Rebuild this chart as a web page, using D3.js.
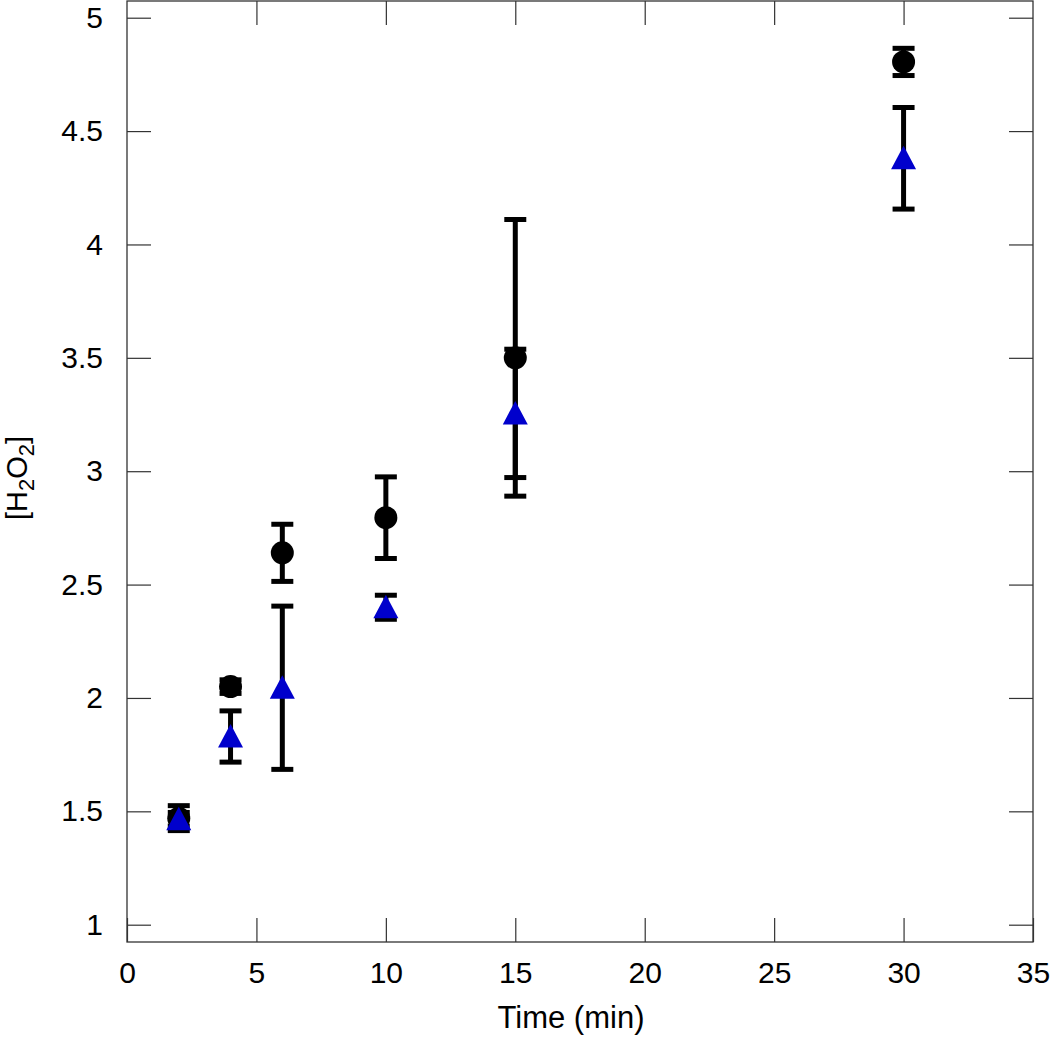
<!DOCTYPE html>
<html>
<head>
<meta charset="utf-8">
<script src="https://cdn.jsdelivr.net/npm/d3@7"></script>
<style>
  body { margin: 0; background: #fff; }
  svg { display: block; font-family: "Liberation Sans", Arial, sans-serif; }
</style>
</head>
<body>
<script>
// time points (min)
var times = [2, 4, 6, 10, 15, 30];

// black circles
var circleMean = [1.47, 2.05, 2.64, 2.795, 3.50, 4.805];
var circleErr  = [0.055, 0.03, 0.126, 0.18, 0.61, 0.06];

// blue triangles
var triMean = [1.465, 1.83, 2.045, 2.40, 3.255, 4.38];
var triErr  = [0.03, 0.113, 0.36, 0.053, 0.283, 0.224];

var xTicks = [0, 5, 10, 15, 20, 25, 30, 35];
var yTicks = [1, 1.5, 2, 2.5, 3, 3.5, 4, 4.5, 5];

const width = 1050;
const height = 1040;
const plotL = 127, plotR = 1033, plotT = 1, plotB = 942;

var svg = d3.select("body")
    .append("svg")
    .attr("width", width)
    .attr("height", height);

var x = d3.scaleLinear().domain([0, 35]).range([plotL, plotR]);
var y = d3.scaleLinear().domain([0.9237, 5.0737]).range([plotB, plotT]);

function styleAxis(g) {
    g.select(".domain").remove();
    g.selectAll(".tick line").attr("stroke", "#333").attr("stroke-width", 1.2);
    g.selectAll("text").attr("fill", "#000").style("font-size", "30px");
}

// frame
svg.append("rect")
    .attr("x", plotL).attr("y", plotT)
    .attr("width", plotR - plotL).attr("height", plotB - plotT)
    .attr("fill", "none").attr("stroke", "#333").attr("stroke-width", 1.3);

svg.append("g")
    .attr("transform", "translate(0," + plotB + ")")
    .call(d3.axisBottom(x).tickValues(xTicks).tickSize(-24).tickSizeOuter(0)
        .tickPadding(20).tickFormat(d3.format("~g")))
    .call(styleAxis);

svg.append("g")
    .attr("transform", "translate(0," + plotT + ")")
    .call(d3.axisTop(x).tickValues(xTicks.slice(1, -1)).tickSize(-24).tickSizeOuter(0)
        .tickFormat(""))
    .call(styleAxis);

svg.append("g")
    .attr("transform", "translate(" + plotL + ",0)")
    .call(d3.axisLeft(y).tickValues(yTicks).tickSize(-24).tickSizeOuter(0)
        .tickPadding(24).tickFormat(d3.format("~g")))
    .call(styleAxis);

svg.append("g")
    .attr("transform", "translate(" + plotR + ",0)")
    .call(d3.axisRight(y).tickValues(yTicks).tickSize(-24).tickSizeOuter(0)
        .tickFormat(""))
    .call(styleAxis);

// axis titles
svg.append("text")
    .attr("x", 571)
    .attr("y", 1028)
    .attr("text-anchor", "middle")
    .style("font-size", "31px")
    .text("Time (min)");

var yl = svg.append("text")
    .attr("transform", "translate(27,478) rotate(-90)")
    .attr("text-anchor", "middle")
    .style("font-size", "29px");
yl.append("tspan").text("[H");
yl.append("tspan").attr("baseline-shift", "-30%").style("font-size", "22px").text("2");
yl.append("tspan").text("O");
yl.append("tspan").attr("baseline-shift", "-30%").style("font-size", "22px").text("2");
yl.append("tspan").text("]");

var circleData = times.map(function (t, i) { return {t: t, m: circleMean[i], e: circleErr[i]}; });
var triData = times.map(function (t, i) { return {t: t, m: triMean[i], e: triErr[i]}; });

var capW = 11;

function errorBars(data) {
    var g = svg.append("g").attr("stroke", "#000").attr("stroke-width", 5).attr("fill", "none");
    g.selectAll("line.v")
        .data(data)
        .enter()
        .append("line")
        .attr("x1", function (d) { return x(d.t); })
        .attr("x2", function (d) { return x(d.t); })
        .attr("y1", function (d) { return y(d.m - d.e); })
        .attr("y2", function (d) { return y(d.m + d.e); });
    g.selectAll("line.hi")
        .data(data)
        .enter()
        .append("line")
        .attr("x1", function (d) { return x(d.t) - capW; })
        .attr("x2", function (d) { return x(d.t) + capW; })
        .attr("y1", function (d) { return y(d.m + d.e); })
        .attr("y2", function (d) { return y(d.m + d.e); });
    g.selectAll("line.lo")
        .data(data)
        .enter()
        .append("line")
        .attr("x1", function (d) { return x(d.t) - capW; })
        .attr("x2", function (d) { return x(d.t) + capW; })
        .attr("y1", function (d) { return y(d.m - d.e); })
        .attr("y2", function (d) { return y(d.m - d.e); });
}

errorBars(circleData);

svg.selectAll("circle.pt")
    .data(circleData)
    .enter()
    .append("circle")
    .attr("class", "pt")
    .attr("r", 11.5)
    .attr("cx", function (d) { return x(d.t); })
    .attr("cy", function (d) { return y(d.m); })
    .style("fill", "#000");

errorBars(triData);

svg.selectAll("path.tri")
    .data(triData)
    .enter()
    .append("path")
    .attr("class", "tri")
    .attr("d", "M0,-12.5L12.5,11L-12.5,11Z")
    .attr("transform", function (d) { return "translate(" + x(d.t) + "," + y(d.m) + ")"; })
    .style("fill", "#0000cc");
</script>
</body>
</html>
